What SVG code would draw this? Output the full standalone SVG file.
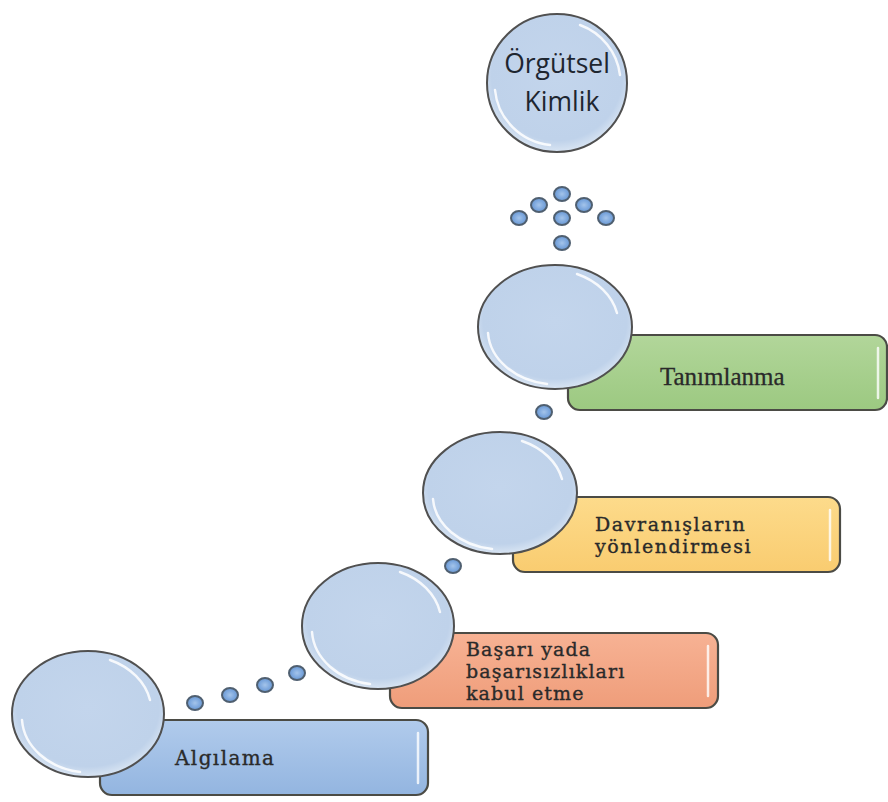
<svg xmlns="http://www.w3.org/2000/svg" width="888" height="802" viewBox="0 0 888 802">
  <defs>
    <linearGradient id="gBlue" x1="0" y1="0" x2="0" y2="1">
      <stop offset="0" stop-color="#b1cbec"/>
      <stop offset="1" stop-color="#93b5e0"/>
    </linearGradient>
    <linearGradient id="gOrange" x1="0" y1="0" x2="0" y2="1">
      <stop offset="0" stop-color="#f7b294"/>
      <stop offset="1" stop-color="#ef9d7a"/>
    </linearGradient>
    <linearGradient id="gYellow" x1="0" y1="0" x2="0" y2="1">
      <stop offset="0" stop-color="#fddb8b"/>
      <stop offset="1" stop-color="#f9cc70"/>
    </linearGradient>
    <linearGradient id="gGreen" x1="0" y1="0" x2="0" y2="1">
      <stop offset="0" stop-color="#b2d69a"/>
      <stop offset="1" stop-color="#9cc981"/>
    </linearGradient>
    <radialGradient id="gBubble" cx="0.5" cy="0.45" r="0.55">
      <stop offset="0" stop-color="#c3d5ec"/>
      <stop offset="0.85" stop-color="#bfd2ea"/>
      <stop offset="1" stop-color="#d9e5f3"/>
    </radialGradient>
    <radialGradient id="gDot" cx="0.5" cy="0.5" r="0.5">
      <stop offset="0" stop-color="#a4c4ea"/>
      <stop offset="0.7" stop-color="#78a4dc"/>
      <stop offset="1" stop-color="#6d96c9"/>
    </radialGradient>
  </defs>
  <style>
    .box { stroke: #4b4b45; stroke-width: 2.2; }
    .shine { fill: none; stroke: #ffffff; stroke-opacity: 0.8; stroke-width: 2.5; stroke-linecap: round; }
    .bubble { fill: url(#gBubble); stroke: #505050; stroke-width: 2; }
    .gloss { fill: none; stroke: #ffffff; stroke-opacity: 0.85; stroke-width: 2.5; stroke-linecap: round; }
    .dot { fill: url(#gDot); stroke: #4f5f70; stroke-width: 2; }
    .lbl { font-family: "DejaVu Serif", "Liberation Serif", serif; font-size: 19px; letter-spacing: 1.1px; fill: #2a2a2a; stroke: #2a2a2a; stroke-width: 0.35; }
    .lblT { font-family: "Liberation Serif", "DejaVu Serif", serif; font-size: 25px; fill: #2a2a2a; stroke: #2a2a2a; stroke-width: 0.3; }
    .title { font-family: "Open Sans", "Liberation Sans", sans-serif; font-size: 26.5px; fill: #1e2630; }
  </style>

  <rect width="888" height="802" fill="#ffffff"/>

  <!-- connector dots -->
  <g id="connectors">
    <ellipse class="dot" cx="195" cy="703" rx="8" ry="7"/>
    <ellipse class="dot" cx="230" cy="695" rx="8" ry="7"/>
    <ellipse class="dot" cx="265" cy="685" rx="8" ry="7"/>
    <ellipse class="dot" cx="297" cy="673" rx="8" ry="7"/>
    <ellipse class="dot" cx="453" cy="566" rx="8" ry="7"/>
    <ellipse class="dot" cx="544" cy="412" rx="8" ry="7"/>
    <ellipse class="dot" cx="562" cy="194" rx="8" ry="7"/>
    <ellipse class="dot" cx="539" cy="205" rx="8" ry="7"/>
    <ellipse class="dot" cx="584" cy="205" rx="8" ry="7"/>
    <ellipse class="dot" cx="519" cy="218" rx="8" ry="7"/>
    <ellipse class="dot" cx="562" cy="218" rx="8" ry="7"/>
    <ellipse class="dot" cx="606" cy="218" rx="8" ry="7"/>
    <ellipse class="dot" cx="562" cy="243" rx="8" ry="7"/>
  </g>

  <!-- step 1 -->
  <g id="step-algilama">
    <rect class="box" x="100" y="720" width="328" height="75" rx="12" fill="url(#gBlue)"/>
    <path class="shine" d="M418 733 V783"/>
    <ellipse class="bubble" cx="88" cy="714" rx="76" ry="63"/>
    <path class="gloss" d="M22 720 A68 56 0 0 0 80 772"/>
    <path class="gloss" d="M150 700 A68 56 0 0 0 110 660"/>
    <text class="lbl" x="175" y="765" style="font-size:20px;letter-spacing:1.4px">Algılama</text>
  </g>

  <!-- step 2 -->
  <g id="step-basari">
    <rect class="box" x="390" y="633" width="328" height="75" rx="12" fill="url(#gOrange)"/>
    <path class="shine" d="M708 646 V696"/>
    <ellipse class="bubble" cx="378" cy="626" rx="76" ry="63"/>
    <path class="gloss" d="M312 632 A68 56 0 0 0 370 684"/>
    <path class="gloss" d="M440 612 A68 56 0 0 0 400 572"/>
    <text class="lbl" x="466" y="656">Başarı yada</text>
    <text class="lbl" x="466" y="678">başarısızlıkları</text>
    <text class="lbl" x="466" y="700">kabul etme</text>
  </g>

  <!-- step 3 -->
  <g id="step-davranis">
    <rect class="box" x="513" y="497" width="327" height="75" rx="12" fill="url(#gYellow)"/>
    <path class="shine" d="M830 510 V560"/>
    <ellipse class="bubble" cx="500" cy="493" rx="77" ry="61"/>
    <path class="gloss" d="M433 499 A69 54 0 0 0 492 549"/>
    <path class="gloss" d="M562 479 A69 54 0 0 0 522 441"/>
    <text class="lbl" x="595" y="531" style="letter-spacing:1.6px">Davranışların</text>
    <text class="lbl" x="595" y="553" style="letter-spacing:1.6px">yönlendirmesi</text>
  </g>

  <!-- step 4 -->
  <g id="step-tanimlanma">
    <rect class="box" x="568" y="335" width="319" height="75" rx="12" fill="url(#gGreen)"/>
    <path class="shine" d="M878 348 V398"/>
    <ellipse class="bubble" cx="555" cy="327" rx="77" ry="62"/>
    <path class="gloss" d="M488 333 A69 55 0 0 0 547 384"/>
    <path class="gloss" d="M617 313 A69 55 0 0 0 577 274"/>
    <text class="lblT" x="660" y="385">Tanımlanma</text>
  </g>

  <!-- goal -->
  <g id="goal-orgutsel-kimlik">
    <ellipse class="bubble" cx="557" cy="83" rx="70" ry="69"/>
    <path class="gloss" d="M495 90 A62 61 0 0 0 550 145"/>
    <path class="gloss" d="M620 75 A62 61 0 0 0 580 25"/>
    <text class="title" x="557" y="73" text-anchor="middle">Örgütsel</text>
    <text class="title" x="562" y="111" text-anchor="middle">Kimlik</text>
  </g>
</svg>
